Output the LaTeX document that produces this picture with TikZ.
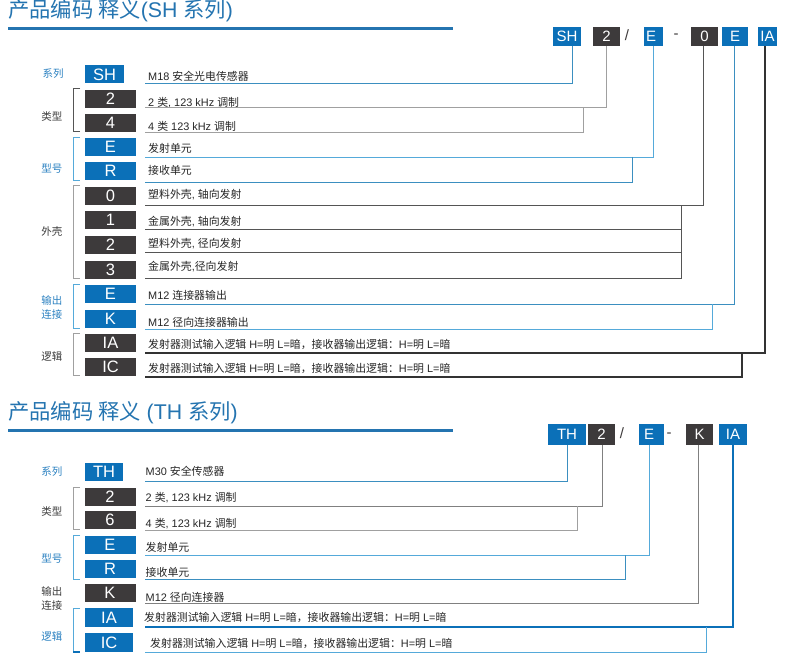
\documentclass[tikz,border=0pt]{standalone}
\usepackage{fontspec}
\setmainfont{Liberation Sans}
\newfontfamily\zhfont{Noto Sans CJK SC}
\newcommand{\zh}[1]{{\zhfont #1}}
\definecolor{cblue}{HTML}{0B70B8}
\definecolor{cdark}{HTML}{3D3A3B}
\definecolor{ttl}{HTML}{2474B0}
\definecolor{lblue}{HTML}{2A80C0}
\definecolor{ltxt}{HTML}{3A3A3A}
\definecolor{lnblue}{HTML}{3B8FC0}
\definecolor{lnlblue}{HTML}{55AADA}
\definecolor{lngray}{HTML}{A0A0A0}
\definecolor{lndark}{HTML}{555555}
\definecolor{lnblk}{HTML}{333333}
\begin{document}
\begin{tikzpicture}[x=1pt,y=-1pt,
  topbox/.style={inner sep=0pt,minimum height=19pt,text=white,font=\fontsize{15}{15}\selectfont},
  tb/.style={topbox,fill=cblue},
  td/.style={topbox,fill=cdark},
  sep/.style={inner sep=0pt,text=cdark,font=\fontsize{15}{15}\selectfont},
  lbox/.style={inner sep=0pt,minimum height=18pt,minimum width=51pt,text=white,font=\fontsize{16.5}{16.5}\selectfont},
  lb/.style={lbox,fill=cblue},
  ld/.style={lbox,fill=cdark},
  desc/.style={anchor=west,inner sep=0pt,text=black!85,font=\fontsize{10.9}{10.9}\selectfont},
  lab/.style={inner sep=0pt,font=\fontsize{10.5}{10.5}\selectfont\zhfont},
  title/.style={anchor=west,inner sep=0pt,text=ttl,font=\fontsize{21.3}{21.3}\selectfont},
  ln/.style={line width=0.8pt},
  lnthick/.style={line width=1.7pt,draw=lnblk},
  brk/.style={line width=0.8pt}
]
\useasboundingbox (0,0) rectangle (790,666);

% ================= SH section =================
\node[title] (t1) at (8,11) {\zh{产品编码 释义}(SH \zh{系列})};
\draw[line width=3pt,draw=ttl] (8,29) coordinate (u1a) -- (453,29) coordinate (u1b);

% top code
\node[tb,minimum width=28pt] (cSH) at (567,36.5) {SH};
\node[td,minimum width=27pt] (c2) at (606.5,36.5) {2};
\node[sep] (s1) at (627,35) {/};
\node[tb,minimum width=19pt] (cE) at (653.5,36.5) {E\,\,};
\node[sep] (s2) at (676,36) {-};
\node[td,minimum width=27pt] (c0) at (704.5,36.5) {0};
\node[tb,minimum width=26pt] (cE2) at (735,36.5) {E};
\node[tb,minimum width=19pt] (cIA) at (767.5,36.5) {IA};

% left boxes
\node[lb,minimum width=39pt] (bSH) at (104.5,74.5) {SH};
\node[ld] (b2) at (110.5,99) {2};
\node[ld] (b4) at (110.5,123) {4};
\node[lb] (bE) at (110.5,147) {E};
\node[lb] (bR) at (110.5,171) {R};
\node[ld] (b0) at (110.5,196) {0};
\node[ld] (b1) at (110.5,220) {1};
\node[ld] (b2b) at (110.5,245) {2};
\node[ld] (b3) at (110.5,270) {3};
\node[lb] (bE2) at (110.5,294) {E};
\node[lb] (bK) at (110.5,319) {K};
\node[ld] (bIA) at (110.5,342.5) {IA};
\node[ld] (bIC) at (110.5,367) {IC};

% labels
\node[lab,text=lblue] (g1) at (53,74) {系列};
\node[lab,text=ltxt] (g2) at (52,117) {类型};
\node[lab,text=lblue] (g3) at (52,169) {型号};
\node[lab,text=ltxt] (g4) at (52,232) {外壳};
\node[lab,text=lblue] (g5) at (52,300) {输出};
\node[lab,text=lblue] (g6) at (52,315) {连接};
\node[lab,text=ltxt] (g7) at (52,357) {逻辑};

% brackets
\draw[brk,draw=lndark] (80,88) -- (73,88) -- (73,131) -- (80,131);
\draw[brk,draw=lnlblue] (80,137) -- (73,137) -- (73,180) -- (80,180);
\draw[brk,draw=lngray] (80,185) -- (73,185) -- (73,278) -- (80,278);
\draw[brk,draw=lnlblue] (80,284) -- (73,284) -- (73,328) -- (80,328);
\draw[brk,draw=lngray] (80,333) -- (73,333) -- (73,375) -- (80,375);

% descriptions
\node[desc] (dSH) at (148,76.5) {M18 \zh{安全光电传感器}};
\node[desc] (d2) at (148,102.5) {2 \zh{类}, 123 kHz \zh{调制}};
\node[desc] (d4) at (148,126) {4 \zh{类} 123 kHz \zh{调制}};
\node[desc] (dE) at (148,148) {\zh{发射单元}};
\node[desc] (dR) at (148,170.5) {\zh{接收单元}};
\node[desc] (d0) at (148,194.5) {\zh{塑料外壳}, \zh{轴向发射}};
\node[desc] (d1) at (148,221.5) {\zh{金属外壳}, \zh{轴向发射}};
\node[desc] (d2b) at (148,243.5) {\zh{塑料外壳}, \zh{径向发射}};
\node[desc] (d3) at (148,266.5) {\zh{金属外壳},\zh{径向发射}};
\node[desc] (dE2) at (148,295) {M12 \zh{连接器输出}};
\node[desc] (dK) at (148,322.5) {M12 \zh{径向连接器输出}};
\node[desc] (dIA) at (148,344) {\zh{发射器测试输入逻辑} H=\zh{明} L=\zh{暗，接收器输出逻辑：}H=\zh{明} L=\zh{暗}};
\node[desc] (dIC) at (148,368.5) {\zh{发射器测试输入逻辑} H=\zh{明} L=\zh{暗，接收器输出逻辑：}H=\zh{明} L=\zh{暗}};

% connector x positions
\coordinate (xSH) at (572,0);
\coordinate (x2) at (606,0);
\coordinate (xE) at (653,0);
\coordinate (x0) at (703.5,0);
\coordinate (xE2) at (734,0);
\coordinate (xIA) at (765,0);
% line ends
\coordinate (eSH) at (145,83);
\coordinate (e2) at (145,107);
\coordinate (e4) at (145,132);
\coordinate (k4) at (583,107);
\coordinate (eE) at (145,157);
\coordinate (eR) at (145,182);
\coordinate (kR) at (632,157);
\coordinate (e0) at (145,205);
\coordinate (k1) at (681,205);
\coordinate (e1) at (145,229);
\coordinate (e2b) at (145,252.5);
\coordinate (e3) at (145,278);
\coordinate (eE2) at (145,304);
\coordinate (kK) at (712,304);
\coordinate (eK) at (145,329);
\coordinate (eIA) at (145,353);
\coordinate (kIC) at (742,353);
\coordinate (eIC) at (145,377);

\draw[ln,draw=lnblue] (cSH.south -| xSH) |- (eSH);
\draw[ln,draw=lngray] (c2.south -| x2) |- (e2);
\draw[ln,draw=lngray] (k4) |- (e4);
\draw[ln,draw=lnlblue] (cE.south -| xE) |- (eE);
\draw[ln,draw=lnblue] (kR) |- (eR);
\draw[ln,draw=lndark] (c0.south -| x0) |- (e0);
\draw[ln,draw=lndark] (k1) |- (e3);
\draw[ln,draw=lndark] (e1 -| k1) -- (e1);
\draw[ln,draw=lndark] (e2b -| k1) -- (e2b);
\draw[ln,draw=lnblue] (cE2.south -| xE2) |- (eE2);
\draw[ln,draw=lnlblue] (kK) |- (eK);
\draw[lnthick] (cIA.south -| xIA) |- (eIA);
\draw[lnthick] (kIC) |- (eIC);

% ================= TH section =================
\node[title] (t2) at (8,413) {\zh{产品编码 释义} (TH \zh{系列})};
\draw[line width=3pt,draw=ttl] (8,430) coordinate (u2a) -- (453,430) coordinate (u2b);

\node[tb,minimum width=38pt,minimum height=21pt] (tTH) at (567,434.5) {TH};
\node[td,minimum width=27pt,minimum height=21pt] (t2c) at (601.5,434.5) {2};
\node[sep] (s3) at (622,433) {/};
\node[tb,minimum width=25pt,minimum height=21pt] (tE) at (651.5,434.5) {E\,\,};
\node[sep] (s4) at (669,435) {-};
\node[td,minimum width=27pt,minimum height=21pt] (tK) at (699.5,434.5) {K};
\node[tb,minimum width=28pt,minimum height=21pt] (tIA) at (733,434.5) {IA};

\node[lb,minimum width=38pt] (hTH) at (104,472) {TH};
\node[ld] (h2) at (110,497) {2};
\node[ld] (h6) at (110,520) {6};
\node[lb] (hE) at (110,545) {E};
\node[lb] (hR) at (110,569) {R};
\node[ld] (hK) at (110,593) {K};
\node[lb,minimum width=48pt,minimum height=19pt] (hIA) at (109,617.5) {IA};
\node[lb,minimum width=48pt,minimum height=19pt] (hIC) at (109,642.5) {IC};

\node[lab,text=lblue] (m1) at (52,472) {系列};
\node[lab,text=ltxt] (m2) at (52,512) {类型};
\node[lab,text=lblue] (m3) at (52,559) {型号};
\node[lab,text=ltxt] (m4) at (52,591) {输出};
\node[lab,text=ltxt] (m5) at (52,606) {连接};
\node[lab,text=lblue] (m6) at (52,637) {逻辑};

\draw[brk,draw=lngray] (80,487) -- (73,487) -- (73,529) -- (80,529);
\draw[brk,draw=lnlblue] (80,535) -- (73,535) -- (73,579) -- (80,579);
\draw[brk,draw=lnlblue] (80,608) -- (73,608) -- (73,652) -- (80,652);
\draw[line width=1.6pt,draw=cblue] (73,652) -- (80,652);

\node[desc] (nTH) at (145.5,471.2) {M30 \zh{安全传感器}};
\node[desc] (n2) at (145.5,497.5) {2 \zh{类}, 123 kHz \zh{调制}};
\node[desc] (n6) at (145.5,523.3) {4 \zh{类}, 123 kHz \zh{调制}};
\node[desc] (nE) at (145.5,547.8) {\zh{发射单元}};
\node[desc] (nR) at (145.5,572) {\zh{接收单元}};
\node[desc] (nK) at (145.5,597) {M12 \zh{径向连接器}};
\node[desc] (nIA) at (144,617.2) {\zh{发射器测试输入逻辑} H=\zh{明} L=\zh{暗，接收器输出逻辑：}H=\zh{明} L=\zh{暗}};
\node[desc] (nIC) at (150,643.3) {\zh{发射器测试输入逻辑} H=\zh{明} L=\zh{暗，接收器输出逻辑：}H=\zh{明} L=\zh{暗}};

\coordinate (yTH) at (567,0);
\coordinate (y2) at (602,0);
\coordinate (yE) at (649,0);
\coordinate (yK) at (698.5,0);
\coordinate (yIA) at (733,0);
\coordinate (fTH) at (145,481);
\coordinate (f2) at (145,506);
\coordinate (j6) at (577,506);
\coordinate (f6) at (145,530);
\coordinate (fE) at (145,555);
\coordinate (jR) at (625,555);
\coordinate (fR) at (145,579);
\coordinate (fK) at (145,603);
\coordinate (fIA) at (145,627);
\coordinate (jIC) at (706,627);
\coordinate (fIC) at (145,652);

\draw[ln,draw=lnblue] (tTH.south -| yTH) |- (fTH);
\draw[ln,draw=gray] (t2c.south -| y2) |- (f2);
\draw[ln,draw=lngray] (j6) |- (f6);
\draw[ln,draw=lnlblue] (tE.south -| yE) |- (fE);
\draw[ln,draw=lnblue] (jR) |- (fR);
\draw[ln,draw=gray] (tK.south -| yK) |- (fK);
\draw[line width=1.4pt,draw=cblue] (tIA.south -| yIA) |- (fIA);
\draw[ln,draw=lnlblue] (jIC) |- (fIC);
\end{tikzpicture}
\end{document}
